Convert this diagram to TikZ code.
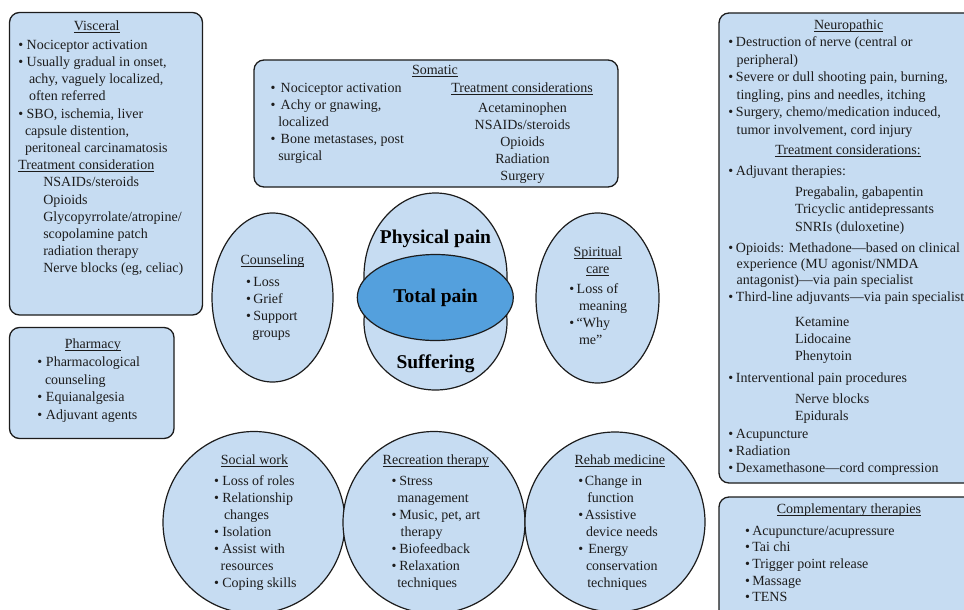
\documentclass[tikz,border=0pt]{standalone}
\usepackage{fontspec}
\setmainfont{Liberation Serif}
\definecolor{panel}{RGB}{198,220,242}
\definecolor{core}{RGB}{84,160,221}
\definecolor{ink}{RGB}{28,28,28}
\newlength\bulw
\setlength\bulw{8pt}
% bullet in a fixed-width box so that item text lines up
\newcommand\bul{\makebox[\bulw][l]{\textbullet}}
% underline at a fixed depth below the baseline
\newcommand\ulx[1]{\setbox0\hbox{#1}\rlap{\color{ink}\rule[-2.3pt]{\wd0}{0.8pt}}\box0}
% line stacks whose baseline is that of their first line
\newcommand\lblock[1]{\begin{tabular}[t]{@{}l@{}}#1\end{tabular}}
\newcommand\cblock[1]{\begin{tabular}[t]{@{}c@{}}#1\end{tabular}}
\tikzset{
  body/.style={inner sep=0pt, outer sep=0pt, anchor=base west, text=ink,
    font=\fontsize{14}{17.2}\selectfont},
  head/.style={inner sep=0pt, outer sep=0pt, anchor=base, text=ink,
    font=\fontsize{14}{17.2}\selectfont},
  lead/.style={inner sep=0pt, outer sep=0pt, anchor=base, text=black,
    font=\fontsize{19.5}{22}\selectfont\bfseries},
  bw/.code={\setlength\bulw{#1}},
  lsp/.style={font=\fontsize{14}{#1}\selectfont},
  panelbox/.style={draw=ink, fill=panel, line width=1.3pt, rounded corners=10pt},
  disc/.style={draw=ink, fill=panel, line width=1.2pt},
  rim/.style={draw=ink, line width=1.2pt},
}
\begin{document}
\begin{tikzpicture}[x=1pt,y=-1pt]
\useasboundingbox (0,0) rectangle (964,610);

% ---------- rounded panels ----------
\draw[panelbox] (9.5,12.5) rectangle (202.5,315);
\draw[panelbox] (254,60) rectangle (618,187);
\draw[panelbox] (719,13) rectangle (990,483);
\draw[panelbox] (719,497) rectangle (990,630);
\draw[panelbox] (9.5,327.5) rectangle (174,438.5);

% ---------- side ellipses ----------
\draw[disc] (272.5,297.5) ellipse[x radius=60.5pt, y radius=84.5pt];
\draw[disc] (597.5,298) ellipse[x radius=61.5pt, y radius=85pt];

% ---------- central figure: physical pain / suffering ----------
\fill[panel] (435.5,276) ellipse[x radius=71.5pt, y radius=83pt];
\fill[panel] (435.5,322) ellipse[x radius=71.5pt, y radius=68pt];
\begin{scope}
  \clip (350,180) rectangle (530,301.3);
  \draw[rim] (435.5,276) ellipse[x radius=71.5pt, y radius=83pt];
\end{scope}
\begin{scope}
  \clip (350,301.3) rectangle (530,400);
  \draw[rim] (435.5,322) ellipse[x radius=71.5pt, y radius=68pt];
\end{scope}
\draw[rim, fill=core] (435.3,297.5) ellipse[x radius=78pt, y radius=43pt];

% ---------- bottom circles ----------
\draw[disc] (254,522.5) circle[radius=91pt];
\draw[disc] (434,522.5) circle[radius=91pt];
\draw[disc] (615,522) circle[radius=90pt];

% ---------- central labels ----------
\node[lead] (phys) at (435.5,243.3) {Physical pain};
\node[lead] (total) at (435.5,302.7) {Total pain};
\node[lead] (suff) at (435.5,368.5) {Suffering};

% ---------- Visceral ----------
\node[head] (viscT) at (96.7,31) {\ulx{Visceral}};
\node[body, bw=8.4pt] (viscB) at (18.3,49.3) {\lblock{%
\bul Nociceptor activation\\
\bul Usually gradual in onset,\\
\hspace*{10.7pt}achy, vaguely localized,\\
\hspace*{10.7pt}often referred\\
\bul SBO, ischemia, liver\\
\hspace*{6.7pt}capsule distention,\\
\hspace*{6.7pt}peritoneal carcinamatosis\\
\ulx{Treatment consideration}\\
\hspace*{25pt}NSAIDs/steroids\\
\hspace*{25pt}Opioids\\
\hspace*{25pt}Glycopyrrolate/atropine/\\
\hspace*{25pt}scopolamine patch\\
\hspace*{25pt}radiation therapy\\
\hspace*{25pt}Nerve blocks (eg, celiac)}};

% ---------- Somatic ----------
\node[head] (somT) at (435,74.3) {\ulx{Somatic}};
\node[body, bw=10pt, lsp=16.9] (somL) at (270.7,92.7) {\lblock{%
\bul Nociceptor activation\\
\bul Achy or gnawing,\\
\hspace*{7.6pt}localized\\
\bul Bone metastases, post\\
\hspace*{7.6pt}surgical}};
\node[head] (somTC) at (522,92.7) {\ulx{Treatment considerations}};
\node[head, lsp=17] (somR) at (522.5,112.7) {\cblock{%
Acetaminophen\\NSAIDs/steroids\\Opioids\\Radiation\\Surgery}};

% ---------- Neuropathic ----------
\node[head] (neuT) at (848.7,30) {\ulx{Neuropathic}};
\node[body, bw=7.7pt, lsp=17.5] (neuA) at (728.3,47) {\lblock{%
\bul Destruction of nerve (central or\\
\hspace*{8.4pt}peripheral)\\
\bul Severe or dull shooting pain, burning,\\
\hspace*{8.4pt}tingling, pins and needles, itching\\
\bul Surgery, chemo/medication induced,\\
\hspace*{8.4pt}tumor involvement, cord injury}};
\node[head] (neuTC) at (848,154) {\ulx{Treatment considerations:}};
\node[body, bw=7.7pt] (neuB) at (728.3,175) {\bul Adjuvant therapies:};
\node[body, lsp=17.3] (neuC) at (795,196.5) {\lblock{%
Pregabalin, gabapentin\\Tricyclic antidepressants\\SNRIs (duloxetine)}};
\node[body, bw=7.7pt, lsp=16.4] (neuD) at (728.3,252) {\lblock{%
\bul Opioids: Methadone—based on clinical\\
\hspace*{8.4pt}experience (MU agonist/NMDA\\
\hspace*{8.4pt}antagonist)—via pain specialist\\
\bul Third-line adjuvants—via pain specialist}};
\node[body, lsp=17] (neuE) at (795,326) {\lblock{Ketamine\\Lidocaine\\Phenytoin}};
\node[body, bw=7.7pt] (neuF) at (728.3,382.7) {\bul Interventional pain procedures};
\node[body, lsp=16.7] (neuG) at (795,403.3) {\lblock{Nerve blocks\\Epidurals}};
\node[body, bw=7.7pt, lsp=17.2] (neuH) at (728.3,438.3) {\lblock{%
\bul Acupuncture\\
\bul Radiation\\
\bul Dexamethasone—cord compression}};

% ---------- Complementary therapies ----------
\node[head] (compT) at (849,513.3) {\ulx{Complementary therapies}};
\node[body, bw=7.3pt, lsp=16.7] (compB) at (745,535) {\lblock{%
\bul Acupuncture/acupressure\\
\bul Tai chi\\
\bul Trigger point release\\
\bul Massage\\
\bul TENS}};

% ---------- Pharmacy ----------
\node[head] (pharT) at (92.8,348.3) {\ulx{Pharmacy}};
\node[body, bw=8.7pt, lsp=17.6] (pharB) at (37.3,366.7) {\lblock{%
\bul Pharmacological\\
\hspace*{7.7pt}counseling\\
\bul Equianalgesia\\
\bul Adjuvant agents}};

% ---------- Counseling ----------
\node[head] (counT) at (272.5,264) {\ulx{Counseling}};
\node[body, bw=7.3pt, lsp=17] (counB) at (246,286) {\lblock{%
\bul Loss\\
\bul Grief\\
\bul Support\\
\hspace*{6.3pt}groups}};

% ---------- Spiritual care ----------
\node[head, lsp=16.6] (spirT) at (597.7,256.7) {\cblock{\ulx{Spiritual}\\\ulx{care}}};
\node[body, bw=7.4pt, lsp=17.2] (spirB) at (569.3,293.3) {\lblock{%
\bul Loss of\\
\hspace*{9.7pt}meaning\\
\bul “Why\\
\hspace*{9.7pt}me”}};

% ---------- Social work ----------
\node[head] (socT) at (254.5,464.3) {\ulx{Social work}};
\node[body, bw=8.3pt, lsp=17.1] (socB) at (214,485) {\lblock{%
\bul Loss of roles\\
\bul Relationship\\
\hspace*{10pt}changes\\
\bul Isolation\\
\bul Assist with\\
\hspace*{6.7pt}resources\\
\bul Coping skills}};

% ---------- Recreation therapy ----------
\node[head] (recT) at (435.8,464.3) {\ulx{Recreation therapy}};
\node[body, bw=7.6pt, lsp=17.1] (recB) at (391.7,485) {\lblock{%
\bul Stress\\
\hspace*{5.6pt}management\\
\bul Music, pet, art\\
\hspace*{9pt}therapy\\
\bul Biofeedback\\
\bul Relaxation\\
\hspace*{5.6pt}techniques}};

% ---------- Rehab medicine ----------
\node[head] (rehT) at (619.8,464.3) {\ulx{Rehab medicine}};
\node[body, bw=6.7pt, lsp=17.1] (rehB) at (578.3,485) {\lblock{%
\bul Change in\\
\hspace*{9pt}function\\
\bul Assistive\\
\hspace*{7.7pt}device needs\\
\makebox[10pt][l]{\textbullet}Energy\\
\hspace*{7.7pt}conservation\\
\hspace*{9pt}techniques}};

\end{tikzpicture}
\end{document}
